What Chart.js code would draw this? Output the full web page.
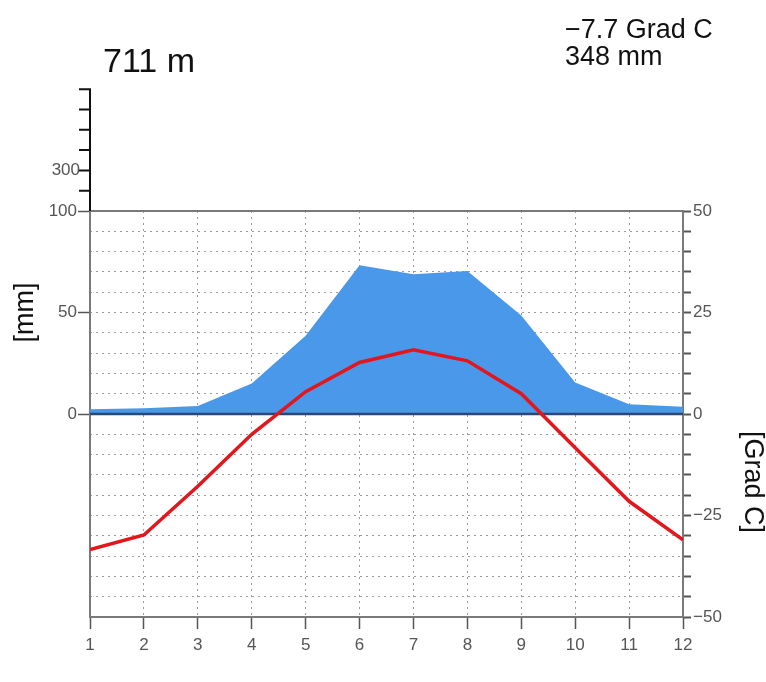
<!DOCTYPE html>
<html>
<head>
<meta charset="utf-8">
<title>Klimadiagramm</title>
<script src="https://cdn.jsdelivr.net/npm/chart.js@4.4.1/dist/chart.umd.min.js"></script>
<style>
    html, body { margin: 0; padding: 0; background: #fff; }
    #wrap { width: 766px; height: 682px; }
</style>
</head>
<body>
<div id="wrap"><canvas id="klima" width="766" height="682"></canvas></div>
<script>
    "use strict";

    // Monthly values
    var months = [1, 2, 3, 4, 5, 6, 7, 8, 9, 10, 11, 12];
    var precip = [2.3, 2.8, 4.0, 15.0, 38.6, 73.3, 68.8, 70.5, 48.5, 15.5, 4.8, 3.6];
    var temp = [-33.4, -29.8, -17.8, -5.0, 5.5, 12.7, 15.8, 13.1, 5.0, -8.3, -21.5, -31.0];

    // Axis ticks
    var mmTicks = [0, 50, 100];
    var mmUpperTicks = [200, 300, 400, 500, 600, 700];
    var mmUpperLabels = [300];
    var tempLabelStep = 25;

    // Station header
    var station = ["711 m", "\u22127.7 Grad C", "348 mm"];

    var FONT = "'Liberation Sans', Arial, sans-serif";
    var GRID = "rgba(90, 90, 90, .6)";
    var AXIS = "#7a7a7a";
    var TICKC = "#555";

    function points(values) {
        return months.map(function (m, i) { return { x: m, y: values[i] }; });
    }

    // Zero line under the temperature curve, upper mm axis (1/10 scale), titles
    var klimaPlugin = {
        id: "klima",
        afterDatasetDraw: function (chart, args) {
            if (args.index !== 0) return;
            var ctx = chart.ctx, a = chart.chartArea;
            var y0 = chart.scales.yT.getPixelForValue(0);
            ctx.save();
            ctx.strokeStyle = "#2a4870";
            ctx.lineWidth = 2.5;
            ctx.beginPath();
            ctx.moveTo(a.left, y0);
            ctx.lineTo(a.right, y0);
            ctx.stroke();
            ctx.restore();
        },
        afterDraw: function (chart) {
            var ctx = chart.ctx, a = chart.chartArea, ymm = chart.scales.y;
            var upper = function (v) { return ymm.getPixelForValue(100 + (v - 100) / 10); };
            var topY = upper(mmUpperTicks[mmUpperTicks.length - 1]);

            ctx.save();
            ctx.strokeStyle = "#111";
            ctx.lineWidth = 2;
            ctx.beginPath();
            ctx.moveTo(a.left, a.top);
            ctx.lineTo(a.left, topY - 1);
            mmUpperTicks.forEach(function (v) {
                var y = upper(v);
                ctx.moveTo(a.left - 11, y);
                ctx.lineTo(a.left, y);
            });
            ctx.stroke();

            ctx.fillStyle = TICKC;
            ctx.font = "17px " + FONT;
            ctx.textAlign = "right";
            ctx.textBaseline = "middle";
            mmUpperLabels.forEach(function (v) {
                ctx.fillText(String(v), a.left - 10, upper(v));
            });

            // header
            ctx.fillStyle = "#111";
            ctx.textAlign = "left";
            ctx.textBaseline = "alphabetic";
            ctx.font = "34px " + FONT;
            ctx.fillText(station[0], 103, 72);
            ctx.font = "27px " + FONT;
            ctx.fillText(station[1], 565, 38);
            ctx.fillText(station[2], 565, 65);

            // axis titles
            ctx.font = "27px " + FONT;
            ctx.textAlign = "center";
            ctx.textBaseline = "middle";
            ctx.save();
            ctx.translate(26, ymm.getPixelForValue(50));
            ctx.rotate(-Math.PI / 2);
            ctx.fillText("[mm]", 0, 0);
            ctx.restore();
            ctx.save();
            ctx.translate(752, 482);
            ctx.rotate(Math.PI / 2);
            ctx.fillText("[Grad C]", 0, 0);
            ctx.restore();
            ctx.restore();
        }
    };

    var canvas = document.getElementById("klima");
    if (canvas) {
        new Chart(canvas.getContext("2d"), {
            type: "line",
            data: {
                datasets: [{
                    label: "Niederschlag",
                    data: points(precip),
                    yAxisID: "y",
                    borderWidth: 0,
                    backgroundColor: "#4a98e9",
                    fill: "origin",
                    pointRadius: 0,
                    tension: 0,
                    order: 2
                },
                {
                    label: "Temperatur",
                    data: points(temp),
                    yAxisID: "yT",
                    borderColor: "#e3161c",
                    borderWidth: 3.5,
                    fill: false,
                    pointRadius: 0,
                    tension: 0,
                    order: 1
                }]
            },
            options: {
                responsive: false,
                animation: false,
                devicePixelRatio: 1,
                layout: { padding: { top: 211, left: 0, right: 0, bottom: 0 } },
                plugins: { legend: { display: false }, tooltip: { enabled: false } },
                scales: {
                    x: {
                        type: "linear",
                        position: "bottom",
                        min: 1,
                        max: 12,
                        z: 1,
                        afterBuildTicks: function (s) { s.ticks = months.map(function (m) { return { value: m }; }); },
                        afterFit: function (s) { s.height = 65; },
                        grid: {
                            color: function (c) { return (c.tick && (c.tick.value === 1 || c.tick.value === 12)) ? "transparent" : GRID; },
                            tickColor: TICKC,
                            tickLength: 12,
                            tickWidth: 1.5
                        },
                        border: { color: AXIS, width: 2, dash: [2, 4] },
                        ticks: { color: TICKC, padding: 6, autoSkip: false, maxRotation: 0, font: { family: FONT, size: 17 } }
                    },
                    xTop: {
                        type: "linear",
                        position: "top",
                        min: 1,
                        max: 12,
                        afterFit: function (s) { s.height = 0; },
                        grid: { drawOnChartArea: false, drawTicks: false },
                        border: { color: AXIS, width: 2 },
                        ticks: { display: false }
                    },
                    y: {
                        position: "left",
                        min: -100,
                        max: 100,
                        afterBuildTicks: function (s) { s.ticks = mmTicks.map(function (v) { return { value: v }; }); },
                        afterFit: function (s) { s.width = 90; },
                        grid: { drawOnChartArea: false, tickColor: TICKC, tickLength: 12, tickWidth: 1.5 },
                        border: { color: AXIS, width: 2 },
                        ticks: { color: TICKC, padding: 1, autoSkip: false, font: { family: FONT, size: 17 } }
                    },
                    yT: {
                        position: "right",
                        min: -50,
                        max: 50,
                        z: 1,
                        afterBuildTicks: function (s) {
                            var t = [];
                            for (var v = -50; v <= 50; v += 5) t.push({ value: v });
                            s.ticks = t;
                        },
                        afterFit: function (s) { s.width = 83; },
                        grid: {
                            color: function (c) {
                                var v = c.tick ? c.tick.value : 0;
                                return (v === -50 || v === 0 || v === 50) ? "transparent" : GRID;
                            },
                            tickColor: TICKC,
                            tickLength: 8,
                            tickWidth: 2
                        },
                        border: { color: AXIS, width: 2, dash: [2, 4] },
                        ticks: {
                            color: TICKC,
                            padding: 2,
                            autoSkip: false,
                            font: { family: FONT, size: 17 },
                            callback: function (v) {
                                if (v % tempLabelStep !== 0) return "";
                                return v < 0 ? "\u2212" + Math.abs(v) : String(v);
                            }
                        }
                    }
                }
            },
            plugins: [klimaPlugin]
        });
    } else {
        console.warn("Canvas element with id 'klima' not found, skipping chart initialization.");
    }
</script>
</body>
</html>
